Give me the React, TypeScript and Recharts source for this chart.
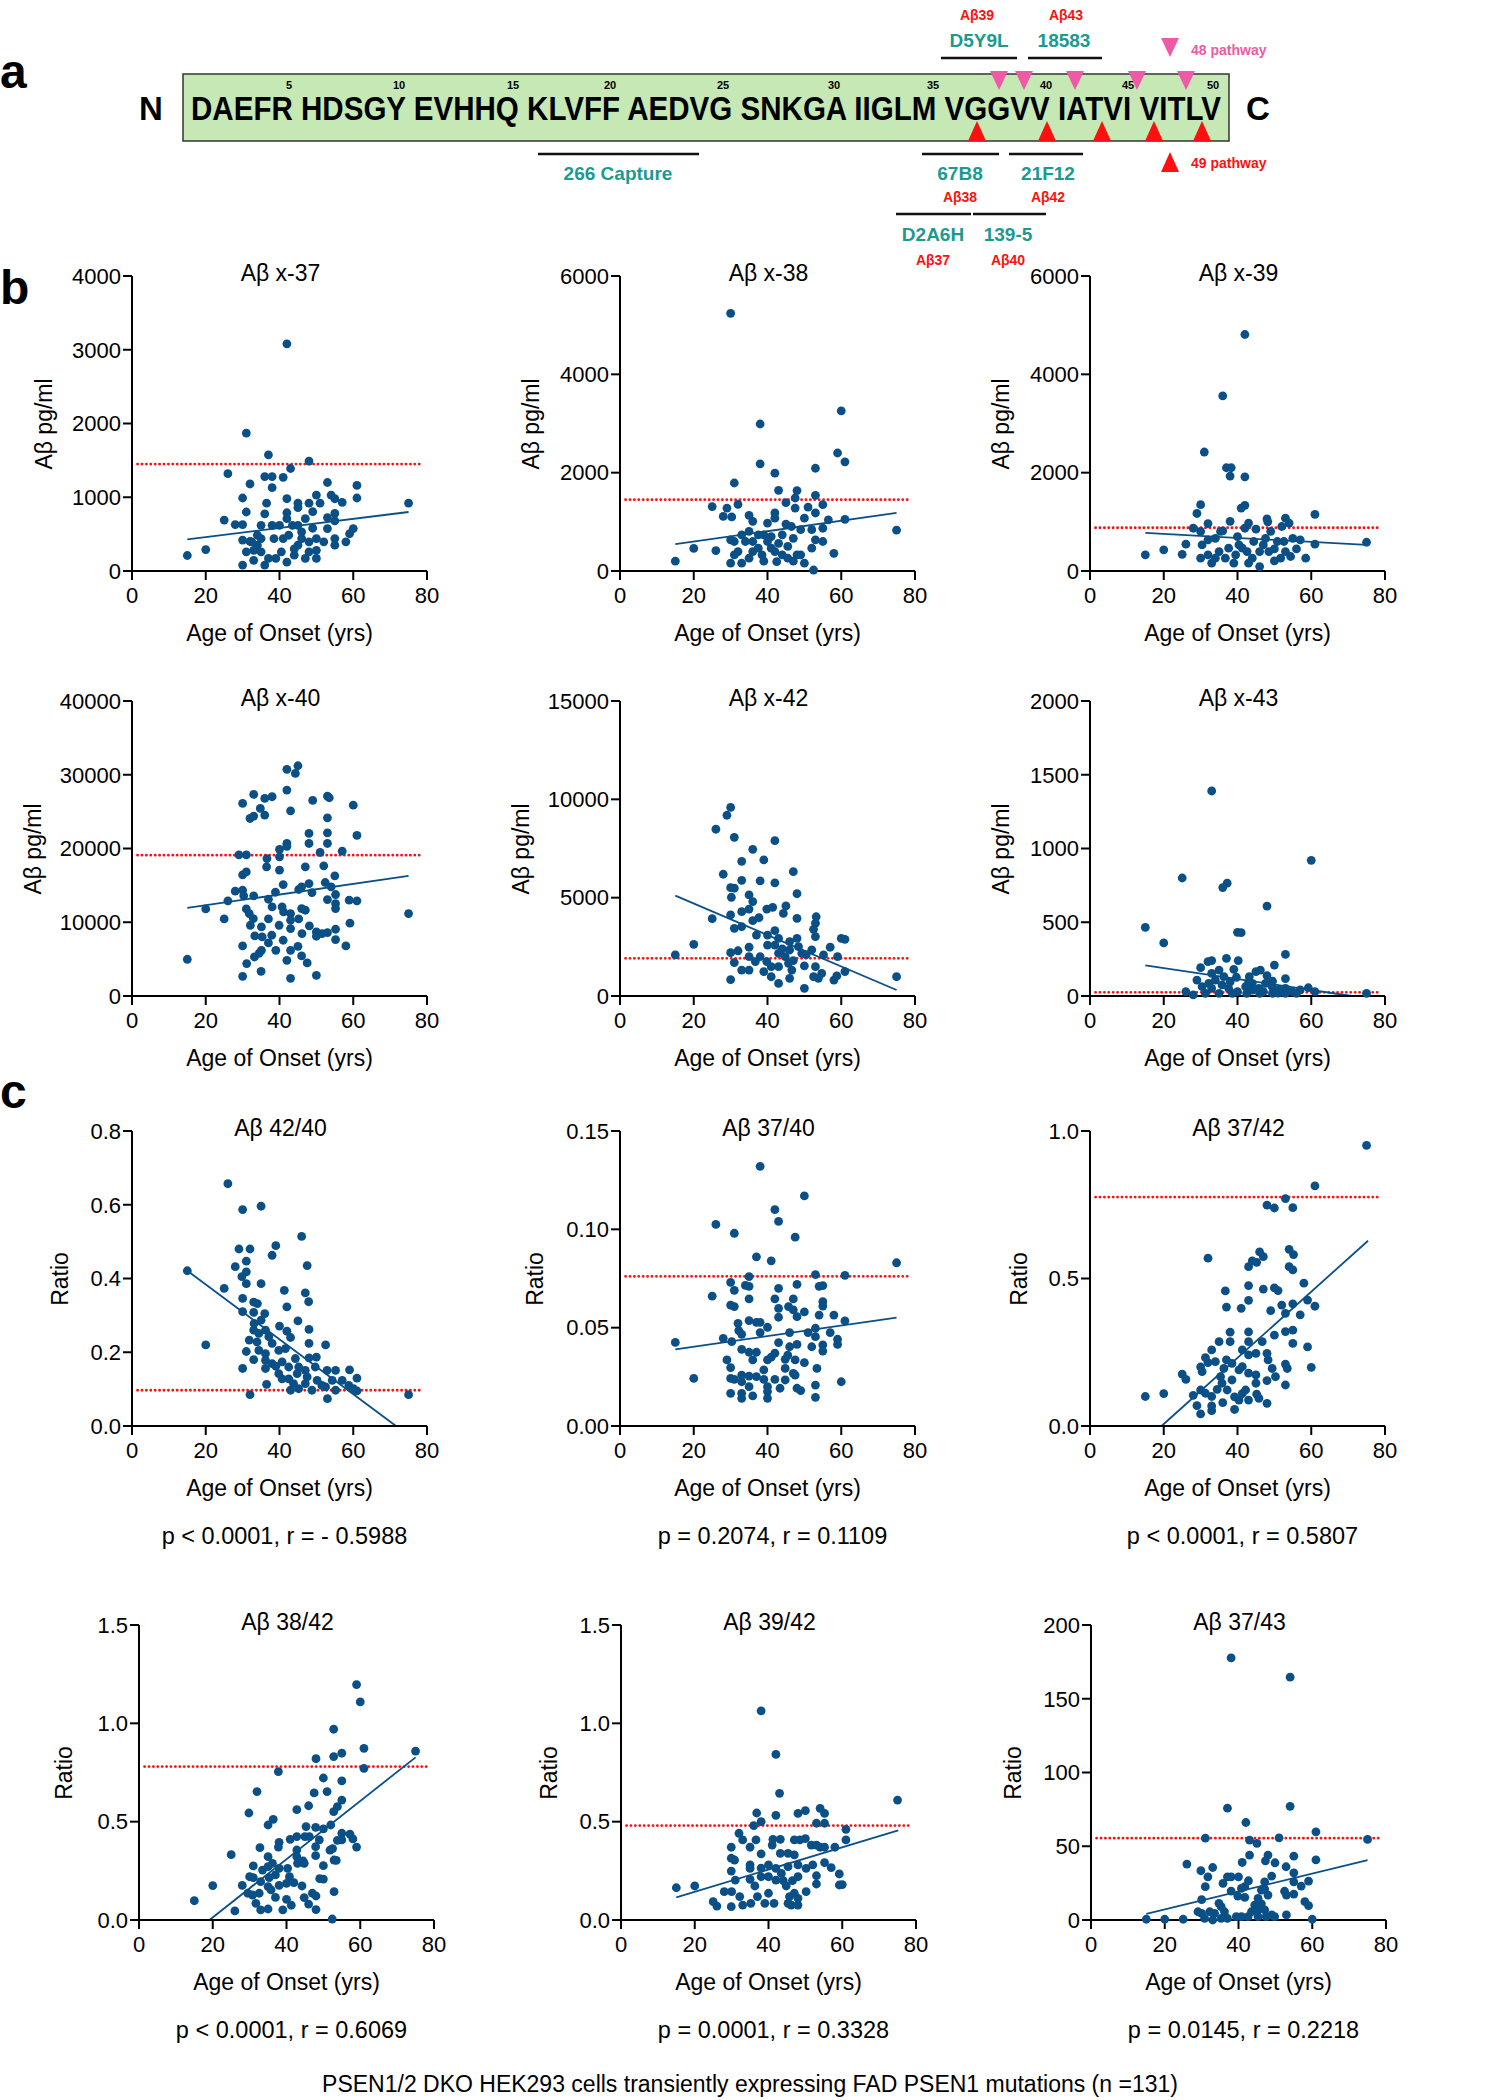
import React from "react";
import { ReferenceLine, Scatter, ScatterChart, XAxis, YAxis } from "recharts";

type Pt = [number, number];

const ab37: Pt[] = [[15,210],[20,290],[25,690],[26,1320],[28,630],[30,630],[31,1870],[30,990],[31,800],[32,1180],[30,80],[31,260],[33,145],[30,420],[32,400],[36,1280],[38,1280],[38,1130],[36.5,920],[36,775],[37,1575],[41,1270],[42,980],[42,3080],[43,1390],[48,1490],[42,790],[45,920],[45,860],[48,920],[49,805],[50,1030],[51,920],[53,1200],[54,1030],[55,980],[57,930],[61,1160],[61,990],[75,920],[53,725],[55,780],[55,680],[53,575],[60,575],[59,505],[58,395],[55,350],[55,440],[52,395],[50,440],[50,170],[50,280],[48,395],[47,710],[46,530],[45,350],[44,215],[42,120],[42.5,485],[40.5,260],[39,170],[38,620],[37,170],[35,260],[34,350],[35,620],[34,485],[32.5,395],[33,280],[35,440],[38.5,440],[40,620],[42,710],[43.5,620],[45,620],[46,440],[48,260],[49,580],[41,440],[36,80],[44,300],[47,170]];
const ab38: Pt[] = [[30,5240],[15,200],[20,460],[26,415],[25,1310],[29,1280],[28,1110],[30.3,1100],[31,1790],[32,1355],[38,2990],[38,2180],[42,1990],[43,1640],[48,1635],[53,2090],[53,1540],[59,2400],[61,2220],[60,3255],[61,1050],[75,830],[55,1350],[51,1300],[45,1390],[47.5,1280],[47.5,1485],[42,1180],[42,1075],[35,1130],[36,1010],[40,975],[45,955],[46.5,905],[49,840],[50,1075],[53,1180],[56.5,1040],[55,870],[52,840],[53,635],[55,600],[52,465],[49,330],[50,160],[52.5,20],[58,360],[30,160],[33,160],[31,600],[30,635],[34,600],[35,805],[37.5,735],[36,395],[38.5,330],[40,600],[42,395],[42.5,190],[44,735],[45.5,500],[47,665],[48,330],[44,330],[41,465],[37.5,465],[35,260],[32,395],[31,330],[45.5,260],[39,735],[41,700],[33,735],[39,200],[47,200],[36,600],[43,560]];
const ab39: Pt[] = [[42,4810],[36,3560],[31,2420],[37,2100],[38.3,2100],[38,1930],[42,1915],[30,1350],[29,1170],[41,1280],[42,1335],[61,1150],[48,1060],[48.2,1000],[53,1075],[54,975],[52,905],[38,1010],[43,975],[42,870],[32,965],[28,870],[30,805],[36,815],[45,850],[49,805],[15,330],[20,430],[25,340],[26,545],[75,585],[61,545],[58.5,260],[57,635],[55,665],[53,395],[54.4,295],[51.7,260],[50,205],[48.5,395],[47,530],[46,395],[46,90],[44,260],[42.6,395],[40.4,530],[40,700],[39,160],[36.7,260],[35,395],[33,160],[32,330],[30,260],[30.4,530],[32,635],[34,665],[35.4,805],[37.6,465],[41.3,465],[47.6,665],[50.8,600],[52.6,600],[44.4,600],[39.5,330],[43,160],[34,260],[50,450],[56,450]];
const ab40: Pt[] = [[15,4980],[20,11810],[25,10450],[26,12900],[28,14210],[30,14340],[30.3,13580],[33,13580],[30,16430],[31,16830],[29,19140],[31,19140],[30,26110],[33,27330],[32,24070],[33,24390],[34.8,25430],[36,24530],[36,26790],[38,27020],[42,30730],[44.3,30180],[45,31220],[42,27920],[43,25110],[49,26520],[53,27100],[53.5,26880],[60,25880],[53,24160],[53,22130],[53,20680],[48,22040],[48,20680],[61,21770],[57,19640],[51,19460],[42,20680],[42,20300],[40,19870],[40,18870],[36.6,18640],[36.5,17510],[40,17060],[47,17510],[52,17650],[55,16290],[52.4,15390],[41,15110],[45.2,14440],[46,14800],[48,15250],[48.8,14030],[54,14800],[55.2,13760],[53,13080],[55.2,12530],[55.2,11860],[58.9,12990],[61,12900],[38.9,14070],[37,13120],[38,12080],[40.7,12080],[41.1,11400],[43,11180],[45.2,10450],[46,11860],[47,11630],[31,11810],[31.8,11180],[32.9,10500],[32.1,9590],[35.1,9370],[37,10450],[39.9,9590],[43,10270],[43,9140],[33.3,8150],[35.3,8010],[37.9,8240],[37,7200],[41,7560],[46.1,8460],[48.1,9500],[50,8690],[50,8100],[51.5,8460],[53,8600],[55.2,9050],[55.2,7650],[59.1,9870],[58,6790],[30,6790],[35.1,6200],[33.2,5290],[31.1,4390],[39,6200],[45,6740],[43,6200],[46,5430],[42,4840],[47.5,4480],[35,3350],[30,2670],[43,2400],[50,2810],[75,11180],[34.5,5800]];
const ab42: Pt[] = [[30,9590],[29,9190],[26,8480],[31,8070],[42,7900],[36,7460],[39,6920],[33,6850],[47,6320],[28,6190],[33,5880],[38,5850],[42,5750],[30,5510],[31,5480],[30.2,5020],[48,5200],[35,5140],[36,4800],[35,4420],[33,4290],[30,4120],[25,3930],[39.8,4420],[41.4,4510],[45,4580],[44.3,4200],[37.7,3980],[36,3830],[48,3950],[53.2,4030],[53,3700],[52.5,3390],[53,3020],[31,3440],[33,3530],[37,3100],[40,3100],[42,3320],[43,2930],[48,2930],[60,2930],[61,2880],[57,2480],[40,2590],[42,2590],[46,2760],[20,2630],[15,2090],[30,2200],[32,2300],[35,2480],[35,2000],[38,2000],[39.8,1750],[43,2170],[44.8,2000],[46,2340],[48.4,2510],[49.3,2170],[52,2340],[55.2,2090],[59,2000],[31,1700],[33,1320],[35,1320],[36.7,1750],[39,1240],[41,980],[43,640],[43,1490],[45.7,1660],[46.6,1320],[46,900],[50,1530],[50,390],[53,1490],[52.5,980],[54.7,1150],[53.8,900],[58,810],[58.8,1020],[61,1240],[75,980],[30,830],[41,1490],[47,1800],[50.5,2100],[44,2400]];
const ab43: Pt[] = [[33,1390],[60,920],[25,800],[37.2,765],[36,735],[48,610],[15,465],[20,360],[40,432],[41,429],[53,282],[37,255],[33,240],[32,233],[40.2,240],[50,210],[30,192],[35,176],[39,181],[45,165],[46.2,176],[33,154],[48,138],[39.7,127],[43.2,131],[29,108],[53,118],[26,29],[28,7],[30.4,63],[32.2,86],[34,108],[35.8,75],[37.6,52],[40,29],[42.2,63],[44,86],[45.8,52],[47.6,86],[49.4,63],[51.2,41],[53,52],[54.8,29],[57,41],[59.2,56],[61,29],[75,18],[31.3,18],[35,18],[38.6,18],[42.5,18],[46,18],[49.5,18],[53,18],[56,18],[33,52],[36.3,131],[43,95],[49.5,100],[38,95],[47,30],[51,20],[44,40]];
const ratio42_40: Pt[] = [[26,0.657],[30,0.587],[35,0.596],[46,0.514],[29,0.48],[32,0.48],[39,0.489],[38,0.463],[31,0.447],[47.5,0.435],[28,0.432],[31,0.418],[29.8,0.405],[31,0.386],[35,0.386],[15,0.421],[25,0.373],[41.3,0.368],[47,0.361],[47.9,0.337],[30,0.346],[30,0.31],[33,0.336],[34,0.332],[42,0.323],[33,0.308],[36,0.305],[35,0.287],[45,0.285],[40,0.271],[33.1,0.278],[33,0.26],[34.4,0.251],[36.2,0.26],[42,0.257],[43,0.24],[48,0.262],[48,0.224],[52.5,0.22],[20,0.22],[31.8,0.233],[33.9,0.228],[37.1,0.242],[38,0.224],[39.8,0.205],[41.6,0.21],[31,0.202],[34.4,0.205],[36.2,0.196],[33,0.18],[36.2,0.178],[38,0.169],[40.7,0.174],[30,0.156],[36.2,0.156],[39,0.162],[42.5,0.16],[44.3,0.183],[45.2,0.16],[48,0.185],[50,0.187],[49.7,0.16],[47,0.151],[44.8,0.142],[42.5,0.128],[40.7,0.128],[43.8,0.115],[43,0.097],[45.2,0.101],[47,0.115],[48.8,0.097],[50.2,0.124],[51.5,0.11],[52.9,0.151],[55.2,0.151],[54.3,0.124],[52.5,0.106],[55.2,0.097],[53,0.074],[57,0.124],[59,0.152],[61,0.13],[58.8,0.11],[60.1,0.101],[61,0.095],[36.5,0.113],[32,0.085],[75,0.085],[47.5,0.133],[39.8,0.142]];
const ratio37_40: Pt[] = [[38,0.132],[50,0.117],[42,0.11],[43,0.104],[26,0.1025],[31,0.098],[47.5,0.096],[37,0.086],[41,0.084],[75,0.083],[35,0.076],[53,0.077],[61,0.0766],[30,0.073],[31,0.069],[34,0.0715],[35,0.071],[48,0.072],[43,0.07],[54,0.071],[55,0.0714],[25,0.066],[35,0.0646],[42,0.0646],[47,0.0646],[30,0.0615],[31,0.0607],[55,0.0632],[55,0.061],[43,0.0598],[45.7,0.0607],[47,0.059],[48,0.0556],[50,0.058],[43,0.0553],[54,0.0564],[58,0.0564],[61,0.0534],[35,0.0536],[37,0.0527],[38,0.0527],[40,0.0502],[32,0.0522],[32.2,0.0485],[33,0.0466],[38,0.0475],[46,0.0475],[51,0.0475],[53,0.0497],[53,0.0454],[57,0.0475],[59,0.0441],[28,0.0446],[15,0.0425],[30.3,0.0429],[33,0.039],[43,0.0424],[48,0.0415],[46,0.0403],[52,0.0403],[55,0.0412],[55,0.0381],[59,0.0415],[29,0.0336],[30,0.0297],[35,0.0375],[36,0.0336],[37,0.0375],[42,0.037],[40,0.0336],[41,0.035],[44.8,0.0339],[45.5,0.036],[47.5,0.0336],[50,0.0322],[53.4,0.0293],[44.8,0.0293],[47,0.0268],[20,0.0242],[30,0.0242],[33,0.0259],[31,0.0237],[35,0.0254],[37,0.0251],[39,0.0285],[39,0.0237],[42,0.0237],[44.8,0.0234],[47.5,0.0259],[33,0.0225],[35,0.02],[40,0.02],[43.4,0.0192],[48,0.0192],[49,0.018],[53,0.0208],[60,0.0225],[30,0.0166],[33,0.0166],[33,0.0141],[36,0.0153],[40,0.0141],[40,0.0175],[53,0.0146]];
const ratio37_42: Pt[] = [[75,0.951],[61,0.814],[53,0.771],[48,0.749],[50,0.739],[55,0.74],[54,0.599],[55.2,0.581],[32,0.569],[46,0.59],[47,0.574],[43,0.54],[44,0.56],[45.2,0.555],[54,0.54],[55,0.529],[58,0.484],[43,0.476],[47,0.464],[50,0.468],[51,0.459],[36.7,0.458],[37,0.403],[41,0.399],[43,0.426],[49,0.391],[52,0.41],[55,0.414],[59,0.427],[61,0.406],[57,0.377],[53,0.382],[38,0.318],[43,0.319],[50,0.308],[53,0.32],[55,0.325],[55,0.28],[59,0.268],[60,0.199],[53,0.21],[53.5,0.195],[53,0.139],[35,0.286],[38,0.286],[43,0.286],[46.7,0.286],[33,0.258],[31.3,0.232],[34,0.218],[37,0.224],[41.3,0.258],[43,0.241],[45,0.246],[48,0.246],[48.3,0.224],[49.4,0.195],[50.3,0.167],[48,0.154],[45,0.173],[43,0.179],[40.4,0.19],[38.5,0.212],[36.3,0.195],[35.4,0.167],[38.5,0.156],[41.3,0.201],[30.4,0.184],[25,0.176],[26,0.158],[15,0.1],[20,0.11],[28,0.104],[30,0.122],[31.3,0.111],[33,0.1],[34.5,0.124],[35.8,0.145],[37.2,0.122],[39.2,0.099],[40.4,0.088],[42.2,0.122],[41.3,0.11],[45,0.145],[45.2,0.108],[45.8,0.094],[48,0.077],[29,0.069],[30,0.041],[33,0.052],[33,0.068],[36,0.079],[39.2,0.056],[43,0.088],[30,0.2],[32,0.215]];
const ratio38_42: Pt[] = [[59,1.197],[60,1.109],[52.8,0.97],[61,0.873],[55,0.848],[52.8,0.831],[48,0.82],[75,0.859],[61,0.771],[37.8,0.754],[50,0.722],[55,0.707],[32,0.653],[47.5,0.646],[51,0.653],[55,0.61],[53.8,0.576],[52.8,0.551],[46,0.581],[42.8,0.561],[29.8,0.544],[36.4,0.512],[35,0.483],[45.3,0.475],[47.9,0.471],[50,0.463],[52,0.483],[55,0.441],[57.2,0.437],[58,0.412],[59,0.371],[55,0.407],[53.8,0.405],[52.5,0.363],[51.8,0.355],[46.2,0.424],[48.9,0.407],[47.9,0.373],[47.9,0.327],[45,0.424],[42.8,0.424],[41,0.41],[38,0.395],[37.8,0.371],[42.8,0.356],[42.8,0.322],[32.8,0.368],[25,0.332],[35,0.322],[36.2,0.288],[35,0.271],[33.5,0.254],[31,0.275],[30,0.22],[31,0.215],[28,0.176],[38,0.263],[40.3,0.263],[43,0.288],[44.8,0.288],[44.5,0.3],[40.8,0.22],[42,0.19],[40,0.186],[38,0.176],[37,0.229],[35.3,0.215],[35,0.17],[33,0.195],[35.8,0.153],[37,0.115],[32.6,0.136],[30.8,0.127],[29.5,0.136],[31.7,0.085],[33,0.051],[35,0.056],[26,0.046],[20,0.175],[15,0.098],[40,0.105],[39,0.051],[41.3,0.075],[44.2,0.173],[44.8,0.114],[46,0.081],[47,0.136],[48,0.122],[48,0.053],[49,0.21],[50,0.208],[50,0.276],[52.9,0.305],[53.5,0.303],[52.9,0.144],[52.4,0.005]];
const ratio39_42: Pt[] = [[38,1.063],[42,0.842],[43,0.644],[75,0.61],[36.8,0.544],[42,0.532],[48,0.542],[50,0.556],[54,0.568],[55.2,0.542],[38,0.5],[36,0.48],[53,0.492],[55.2,0.492],[61,0.461],[61,0.407],[32,0.441],[33,0.407],[36.6,0.407],[41.2,0.41],[43.2,0.41],[47,0.407],[50,0.414],[48.5,0.407],[51.6,0.381],[53,0.381],[54,0.37],[55.2,0.37],[58,0.37],[29.9,0.37],[35,0.37],[38,0.336],[41,0.381],[43.2,0.339],[45.3,0.339],[47,0.331],[29.9,0.314],[30.8,0.305],[55.2,0.292],[57,0.266],[59.2,0.234],[52,0.28],[53,0.225],[53,0.183],[60,0.18],[59.2,0.178],[35,0.28],[35,0.262],[38,0.264],[40,0.28],[42,0.263],[43.5,0.237],[45.3,0.271],[48,0.28],[50.2,0.263],[29.9,0.249],[31,0.203],[35,0.207],[36.3,0.173],[38,0.22],[40,0.22],[42,0.203],[44.8,0.173],[48,0.22],[47,0.136],[45.7,0.119],[50.2,0.144],[15,0.164],[20,0.173],[25,0.093],[26,0.071],[28,0.144],[30,0.144],[29.9,0.068],[32.2,0.119],[33,0.076],[35.2,0.085],[37,0.119],[39,0.085],[40,0.136],[41.5,0.085],[45.3,0.085],[46.2,0.076],[48,0.076],[48,0.11],[44,0.2],[46.5,0.2]];
const ratio37_43: Pt[] = [[38,177.7],[54,164.6],[37,75.8],[54,77.1],[42,66.1],[31,55.5],[43,54.1],[45,51.9],[51,55.7],[61,59.8],[75,54.6],[43,44],[48,44],[47.3,40.1],[49.9,38.8],[55,43.3],[61,40.8],[26,37.9],[41,39],[29.8,33.4],[33,35.6],[31.7,29.3],[52.9,36.1],[55,32],[49,29.8],[37,29.3],[38,29.3],[40,29.3],[35.8,24.8],[31,22.6],[42.7,26.6],[41.7,22.6],[40.8,21.4],[47.1,25.9],[47.1,21],[55,25.9],[57,23],[59,26.4],[52.5,19.5],[53,16.9],[55,17.6],[38,19.6],[30,13.8],[39.8,16.2],[41.7,15.3],[45.3,14.7],[46.2,20.3],[48,16.9],[58,12.4],[59,9.7],[34.7,11.3],[35.3,9],[44.4,10.1],[46.2,11],[47.1,6.8],[29,5.6],[30,4.5],[32.2,5.6],[33.5,4.5],[36.2,5.6],[15,0.5],[20,0.5],[25,0.5],[30.8,1.1],[33,0],[35.3,1.1],[37,1.1],[39.4,2.3],[40.8,2.3],[42.6,2.3],[45.3,2.3],[47.5,2.3],[49.8,2.3],[53,3.4],[60,0.5],[43.5,5.6],[45.3,6.8],[49,3.4]];

// linear fit end points and the dotted cut-off level per panel
const fits: Pt[][] = [
  [[15,430],[75,800]], [[15,545],[75,1180]], [[15,775],[75,530]],
  [[15,11950],[75,16290]], [[15,5100],[75,305]], [[15,208],[71,0]],
  [[15,0.421],[71.6,0]], [[15,0.039],[75,0.0551]], [[19.4,0],[75.4,0.628]],
  [[19.1,0],[75,0.827]], [[15,0.115],[75.2,0.456]], [[15,4.1],[75,40.6]],
];
const cutoffs = [1450, 1450, 880, 19100, 1915, 25, 0.097, 0.0761, 0.776, 0.78, 0.48, 55.5];

const titles = ["Aβ x-37", "Aβ x-38", "Aβ x-39", "Aβ x-40", "Aβ x-42", "Aβ x-43",
  "Aβ 42/40", "Aβ 37/40", "Aβ 37/42", "Aβ 38/42", "Aβ 39/42", "Aβ 37/43"];
const stats = ["p < 0.0001, r = - 0.5988", "p = 0.2074, r = 0.1109", "p < 0.0001, r = 0.5807",
  "p < 0.0001, r = 0.6069", "p = 0.0001, r = 0.3328", "p = 0.0145, r = 0.2218"];
const ageTicks = [0, 20, 40, 60, 80];
const yTicks: number[][] = [
  [0, 1000, 2000, 3000, 4000], [0, 2000, 4000, 6000], [0, 2000, 4000, 6000],
  [0, 10000, 20000, 30000, 40000], [0, 5000, 10000, 15000], [0, 500, 1000, 1500, 2000],
  [0, 0.2, 0.4, 0.6, 0.8], [0, 0.05, 0.1, 0.15], [0, 0.5, 1],
  [0, 0.5, 1, 1.5], [0, 0.5, 1, 1.5], [0, 50, 100, 150, 200],
];
const tickDigits = [0, 0, 0, 0, 0, 0, 1, 2, 1, 1, 1, 0];
const series = [ab37, ab38, ab39, ab40, ab42, ab43, ratio42_40, ratio37_40, ratio37_42, ratio38_42, ratio39_42, ratio37_43];

const BLUE = "#0b4f87";
const RED = "#ff1010";
const TEAL = "#1b9a90";
const PINK = "#ee5aa6";
const FONT = '"Liberation Sans", Arial, Helvetica, sans-serif';

const W = 295, H = 295;
const ML = 110, MT = 24, MR = 30, MB = 60;

// plot frame positions (y axis x, top tick y) and label offsets
const axisX = [132, 620, 1090, 132, 620, 1090, 132, 620, 1090, 139, 621, 1091];
const axisTop = [276, 276, 276, 701, 701, 701, 1131, 1131, 1131, 1625, 1625, 1625];
const yLabelX = [44, 531, 1001, 33, 521, 1001, 60, 535, 1019, 64, 549, 1013];

function Txt({ x, y, size = 23, color = "#000", bold = false, rotate = false, children }: any) {
  return (
    <div
      style={{
        position: "absolute", left: x, top: y, whiteSpace: "nowrap",
        transform: `translate(-50%, -50%)${rotate ? " rotate(-90deg)" : ""}`,
        fontFamily: FONT, fontSize: size, color, fontWeight: bold ? 700 : 400, lineHeight: 1,
      }}
    >
      {children}
    </div>
  );
}

const Dot = (props: any) => <circle cx={props.cx} cy={props.cy} r={4.4} fill={BLUE} />;

function Plot({ i }: { i: number }) {
  const data = series[i].map(([age, v]) => ({ age, v }));
  const ticks = yTicks[i];
  const yMax = ticks[ticks.length - 1];
  const left = axisX[i], top = axisTop[i];
  const axisStyle = { stroke: "#000", strokeWidth: 2 };
  const tickStyle = { fill: "#000", fontSize: 22, fontFamily: FONT };
  const f = fits[i];
  const c = cutoffs[i];
  return (
    <>
      <div style={{ position: "absolute", left: left - ML, top: top - MT }}>
        <ScatterChart width={ML + W + MR} height={MT + H + MB} margin={{ top: MT, right: MR, bottom: 0, left: 0 }}>
          <XAxis type="number" dataKey="age" domain={[0, 80]} ticks={ageTicks} interval={0}
            height={MB} axisLine={axisStyle} tickLine={axisStyle} tickSize={9} tickMargin={7} tick={tickStyle} />
          <YAxis type="number" dataKey="v" domain={[0, yMax]} ticks={ticks} interval={0} width={ML}
            axisLine={axisStyle} tickLine={axisStyle} tickSize={9} tick={tickStyle}
            tickFormatter={(v: number) => v.toFixed(tickDigits[i])} />
          <ReferenceLine segment={[{ x: 1.5, y: c }, { x: 79, y: c }]} stroke={RED} strokeWidth={2.8}
            strokeDasharray="0.1 4.3" strokeLinecap="round" />
          <Scatter data={data} shape={Dot} isAnimationActive={false} />
          <ReferenceLine segment={[{ x: f[0][0], y: f[0][1] }, { x: f[1][0], y: f[1][1] }]}
            stroke={BLUE} strokeWidth={1.8} />
        </ScatterChart>
      </div>
      <Txt x={left + W / 2 + 1} y={top - 3}>{titles[i]}</Txt>
      <Txt x={yLabelX[i]} y={top + H / 2} rotate>{i < 6 ? "Aβ pg/ml" : "Ratio"}</Txt>
      <Txt x={left + W / 2} y={top + H + 62}>Age of Onset (yrs)</Txt>
      {i >= 6 && <Txt x={left + W / 2 + 5} y={top + H + 111} size={23.5}>{stats[i - 6]}</Txt>}
    </>
  );
}

const seqNumbers = [5, 10, 15, 20, 25, 30, 35, 40, 45, 50];
const seqNumberX = [289, 399, 513, 610, 723, 834, 933, 1046, 1128, 1213];
const site48X = [999, 1024, 1075, 1137, 1186];
const site49X = [977, 1047, 1102, 1154, 1202];

const downTri = (cx: number, y: number) => `${cx - 9},${y} ${cx + 9},${y} ${cx},${y + 19}`;
const upTri = (cx: number, y: number) => `${cx - 9},${y} ${cx + 9},${y} ${cx},${y - 20}`;

function PanelA() {
  const ab = (x: number, y: number, t: string) => (
    <text x={x} y={y} textAnchor="middle" fontSize={14} fontWeight={700} fill={RED}>{t}</text>
  );
  const mab = (x: number, y: number, t: string) => (
    <text x={x} y={y} textAnchor="middle" fontSize={19} fontWeight={700} fill={TEAL}>{t}</text>
  );
  const bar = (x1: number, x2: number, y: number) => (
    <line x1={x1} x2={x2} y1={y} y2={y} stroke="#111" strokeWidth={2.5} />
  );
  return (
    <svg width={1498} height={2100} style={{ position: "absolute", left: 0, top: 0 }} fontFamily={FONT}>
      <text x={0} y={88} fontSize={48} fontWeight={700}>a</text>
      <text x={0} y={304} fontSize={48} fontWeight={700}>b</text>
      <text x={0} y={1108} fontSize={48} fontWeight={700}>c</text>
      <rect x={183} y={74} width={1046} height={67} fill="#c5e8b4" stroke="#333" strokeWidth={1.5} />
      <text x={151} y={120} textAnchor="middle" fontSize={33} fontWeight={700}>N</text>
      <text x={1258} y={120} textAnchor="middle" fontSize={33} fontWeight={700}>C</text>
      <text transform="translate(191,120) scale(1,1.25)" x={0} y={0} fontSize={26.5} fontWeight={700}
        textLength={1030} lengthAdjust="spacingAndGlyphs">
        DAEFR HDSGY EVHHQ KLVFF AEDVG SNKGA IIGLM VGGVV IATVI VITLV
      </text>
      {seqNumbers.map((n, k) => (
        <text key={n} x={seqNumberX[k]} y={89} textAnchor="middle" fontSize={11} fontWeight={700}>{n}</text>
      ))}
      {site48X.map((x) => <polygon key={x} points={downTri(x, 71)} fill={PINK} />)}
      {site49X.map((x) => <polygon key={x} points={upTri(x, 141)} fill={RED} />)}
      <polygon points={downTri(1170, 38)} fill={PINK} />
      <text x={1191} y={55} fontSize={14} fontWeight={700} fill={PINK}>48 pathway</text>
      <polygon points={upTri(1170, 172)} fill={RED} />
      <text x={1191} y={168} fontSize={14} fontWeight={700} fill={RED}>49 pathway</text>
      {ab(977, 20, "Aβ39")}
      {mab(979, 47, "D5Y9L")}
      {bar(941, 1017, 58)}
      {ab(1066, 20, "Aβ43")}
      {mab(1064, 47, "18583")}
      {bar(1028, 1102, 58)}
      {bar(538, 699, 154)}
      {mab(618, 180, "266 Capture")}
      {bar(922, 999, 154)}
      {mab(960, 180, "67B8")}
      {ab(960, 202, "Aβ38")}
      {bar(1009, 1083, 154)}
      {mab(1048, 180, "21F12")}
      {ab(1048, 202, "Aβ42")}
      {bar(896, 971, 214)}
      {mab(933, 241, "D2A6H")}
      {ab(933, 265, "Aβ37")}
      {bar(973, 1046, 214)}
      {mab(1008, 241, "139-5")}
      {ab(1008, 265, "Aβ40")}
    </svg>
  );
}

export default function App() {
  return (
    <div style={{ position: "absolute", left: 0, top: 0, width: 1498, height: 2100, background: "#fff", fontFamily: FONT }}>
      <PanelA />
      {series.map((_, i) => <Plot key={i} i={i} />)}
      <Txt x={750} y={2084} size={23}>PSEN1/2 DKO HEK293 cells transiently expressing FAD PSEN1 mutations (n =131)</Txt>
    </div>
  );
}
